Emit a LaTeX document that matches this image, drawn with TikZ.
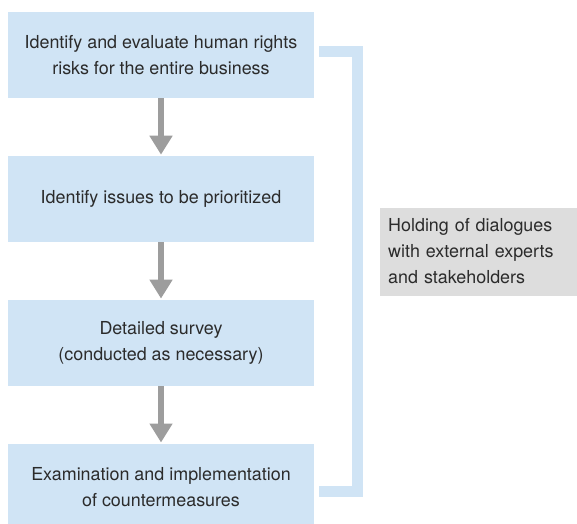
\documentclass[tikz,border=0pt]{standalone}
\usepackage{fontspec}
\setmainfont{TeX Gyre Heros}
\usetikzlibrary{arrows.meta}
\usetikzlibrary{positioning}
\usetikzlibrary{calc}

\definecolor{boxblue}{HTML}{D0E4F5}
\definecolor{arrowgray}{HTML}{9D9D9D}
\definecolor{notegray}{HTML}{DDDDDD}
\definecolor{txtgray}{HTML}{2B2B2B}

\begin{document}
\begin{tikzpicture}[x=1pt,y=1pt,
  stepbox/.style={fill=boxblue, minimum width=306pt, minimum height=86pt,
    align=center, text=txtgray, inner sep=0pt,
    font=\fontsize{17.9}{26}\selectfont},
  notebox/.style={fill=notegray, minimum width=197pt, minimum height=88pt,
    text width=181pt, align=left, inner sep=8pt, text=txtgray,
    font=\fontsize{17.9}{26}\selectfont},
  flow/.style={draw=arrowgray, line width=6pt,
    -{Triangle[width=22pt,length=19pt]}, arrowgray, shorten >=1pt},
  bracket/.style={draw=boxblue, line width=11pt, line join=miter}]
\useasboundingbox (0,0) rectangle (577,523);
% the four steps
\node [stepbox] (b1) at (161,468) {Identify and evaluate human rights\\risks for the entire business};
\node [stepbox, below=57.5pt of b1] (b2) {Identify issues to be prioritized};
\node [stepbox, below=57.5pt of b2] (b3) {Detailed survey\\(conducted as necessary)};
\node [stepbox, below=57.5pt of b3] (b4) {Examination and implementation\\of countermeasures};
\draw [flow] (b1) -- (b2);
\draw [flow] (b2) -- (b3);
\draw [flow] (b3) -- (b4);
% bracket along the right side
\coordinate (brtop) at ($(b1.east)+(5,3)$);
\coordinate (brbot) at ($(b4.east)+(5,-4.5)$);
\coordinate (brmid) at (363,271.5);
\draw [bracket] (brtop) -- ++(38.5,0) |- (brbot);
% dialogue note
\node [notebox, right=17pt of brmid] (dlg) {Holding of dialogues\\with external experts\\and stakeholders};
\end{tikzpicture}
\end{document}
